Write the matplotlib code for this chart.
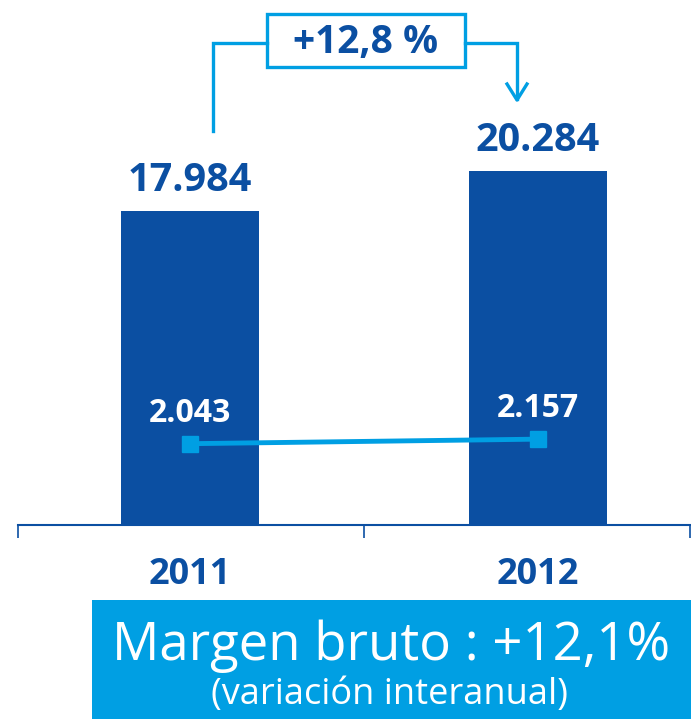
import matplotlib.pyplot as plt
from matplotlib.patches import Rectangle

# data
years = ['2011', '2012']
bar_values = [17984, 20284]      # left scale (bars)
line_values = [2043, 2157]       # right scale (line)
variation_label = '+12,8 %'
margin_title = 'Margen bruto : +12,1%'
margin_sub = '(variación interanual)'

DARK = '#0b4fa2'
LIGHT = '#009fe3'
FONT = ['Open Sans', 'DejaVu Sans']


def fmt(v):
    # spanish thousands separator
    return f"{v:,}".replace(',', '.')


W, H = 691, 719
fig = plt.figure(figsize=(W / 100, H / 100), dpi=100)

# main axes: baseline at y=525 px, full width
base_px = 525
ax = fig.add_axes([0, (H - base_px) / H, 1, base_px / H])
x = [0, 1]
ax.set_xlim(-0.546, 1.44)
ax.set_ylim(0, 30070)

ax.bar(x, bar_values, width=0.397, color=DARK, zorder=2)
for xi, v in zip(x, bar_values):
    ax.annotate(fmt(v), (xi, v), xytext=(0, 11), textcoords='offset pixels',
                ha='center', va='bottom', fontsize=28.5, fontweight='bold',
                color=DARK, family=FONT)
for xi, yr in zip(x, years):
    ax.annotate(yr, (xi, 0), xytext=(0, -50), textcoords='offset pixels',
                ha='center', va='center', fontsize=26, fontweight='bold',
                color=DARK, family=FONT, annotation_clip=False)

# axis line with ticks
for s in ['top', 'left', 'right']:
    ax.spines[s].set_visible(False)
ax.spines['bottom'].set_color(DARK)
ax.spines['bottom'].set_linewidth(1.5)
ax.spines['bottom'].set_bounds(-0.494, 1.44)
ax.set_xticks([-0.494, 0.5, 1.437])
ax.set_xticklabels([])
ax.tick_params(axis='x', direction='out', length=9, width=1.2, color=DARK)
ax.set_yticks([])

# secondary scale for the line
ax2 = ax.twinx()
ax2.set_ylim(0, 13190)
ax2.axis('off')
ax2.plot(x, line_values, color=LIGHT, linewidth=3.5, marker='s',
         markersize=11, zorder=3)
for xi, v in zip(x, line_values):
    ax2.annotate(fmt(v), (xi, v), xytext=(0, 14), textcoords='offset pixels',
                 ha='center', va='bottom', fontsize=23, fontweight='bold',
                 color='white', family=FONT)

# decorations in pixel coordinates
deco = fig.add_axes([0, 0, 1, 1], zorder=5)
deco.set_xlim(0, W)
deco.set_ylim(H, 0)
deco.axis('off')
deco.patch.set_alpha(0)

lw = 2.4
deco.plot([213, 213, 267], [131, 43, 43], color=LIGHT, lw=lw,
          solid_joinstyle='miter')
deco.add_patch(Rectangle((267, 14), 198, 53, fill=False, edgecolor=LIGHT,
                         lw=lw))
deco.plot([465, 517, 517], [43, 43, 99], color=LIGHT, lw=lw,
          solid_joinstyle='miter')
deco.plot([507, 517, 527], [84, 100, 84], color=LIGHT, lw=lw)
deco.text(366, 42, variation_label, ha='center', va='center', fontsize=28,
          fontweight='bold', color=DARK, family=FONT)

deco.add_patch(Rectangle((92, 600), W - 92, H - 600, color=LIGHT, lw=0))
deco.text(391, 646, margin_title, ha='center', va='center', fontsize=38,
          color='white', family=FONT)
deco.text(390, 695, margin_sub, ha='center', va='center', fontsize=26,
          color='white', family=FONT)

fig.savefig('out.png', dpi=100)
